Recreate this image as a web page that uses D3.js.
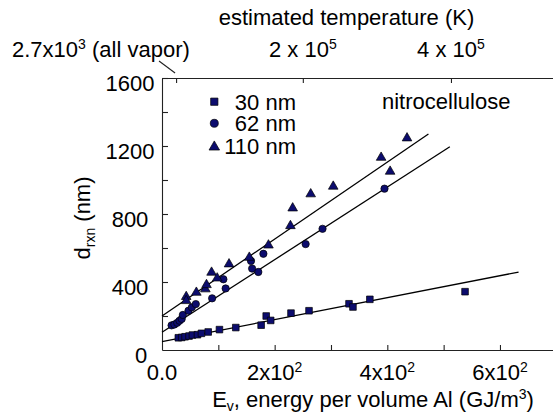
<!DOCTYPE html>
<html><head><meta charset="utf-8">
<script src="https://cdn.jsdelivr.net/npm/d3@7"></script>
<style>
body{margin:0;background:#fff}
svg{display:block}
text{font-family:"Liberation Sans",Arial,sans-serif;fill:#000}
</style>
</head><body>
<svg id="c" width="553" height="414"></svg>
<script>
// ---- data ----
const seriesNames = ["30 nm", "62 nm", "110 nm"];
const energy30 = [29, 35, 41, 48, 54, 63, 70, 82, 102, 131, 176, 185, 193, 229, 261, 332, 339, 369, 538];
const drxn30   = [72, 74, 78, 82, 88, 90, 98, 106, 120, 132, 146, 200, 174, 217, 231, 272, 253, 298, 343];
const energy62 = [17, 22, 27, 31, 35, 37, 47, 53, 60, 89, 109, 113, 158, 160, 171, 180, 255, 285, 395];
const drxn62   = [145, 150, 160, 172, 183, 206, 231, 251, 270, 304, 416, 362, 524, 479, 459, 566, 623, 713, 949];
const energy110 = [43, 43, 61, 77, 79, 88, 98, 119, 155, 189, 228, 232, 264, 304, 389, 405, 435];
const drxn110   = [318, 294, 343, 363, 388, 461, 427, 510, 549, 621, 735, 839, 922, 967, 1137, 1055, 1251];
const fitIntercept = [49, 104, 200];
const fitSlope = [0.647, 2.137, 2.263];
const fitEnd = [633, 511, 473];
const xTickLabels = [["0.0", ""], ["2x10", "2"], ["4x10", "2"], ["6x10", "2"]];
const xLabelValues = [0, 200, 400, 600];
const yLabelValues = [0, 400, 800, 1200, 1600];
const topTickEnergy = [25, 250, 513];
const topTickLabels = [["2.7x10", "3", " (all vapor)"], ["2 x 10", "5", ""], ["4 x 10", "5", ""]];

// ---- chart ----
const svg = d3.select("#c");
const FS = 22;
const x = d3.scaleLinear().domain([0, 700]).range([162, 556.3]);
const y = d3.scaleLinear().domain([0, 1600]).range([350, 78]);
const axisColor = "#222";

// bottom axis
const gx = svg.append("g").attr("transform", `translate(0,${y(0)})`)
  .call(d3.axisBottom(x).tickValues(d3.range(100, 701, 100)).tickSize(-5).tickSizeOuter(0).tickFormat(""));
// left axis
const gy = svg.append("g").attr("transform", `translate(${x(0)},0)`)
  .call(d3.axisLeft(y).tickValues(d3.range(200, 1601, 200)).tickSize(-6).tickSizeOuter(0).tickFormat(""));
// top axis
const gt = svg.append("g").attr("transform", `translate(0,${y(1600)})`)
  .call(d3.axisTop(x).tickValues(topTickEnergy).tickSize(-5).tickSizeOuter(0).tickFormat(""));
[gx, gy, gt].forEach(g => {
  g.selectAll("path").attr("stroke", axisColor).attr("stroke-width", 1.1);
  g.selectAll("line").attr("stroke", axisColor).attr("stroke-width", 1.1);
});

// x tick labels
svg.append("g").selectAll("text").data(xLabelValues).join("text")
  .attr("x", d => x(d)).attr("y", 380).attr("text-anchor", "middle").attr("font-size", FS)
  .each(function(d, i) {
    const t = d3.select(this);
    t.append("tspan").text(xTickLabels[i][0]);
    if (xTickLabels[i][1]) t.append("tspan").attr("font-size", 14).attr("dy", -8).text(xTickLabels[i][1]);
  });

// y tick labels
svg.append("g").selectAll("text").data(yLabelValues).join("text")
  .attr("x", d => d === 0 ? 141 : 130).attr("y", d => y(d) + 12.5)
  .attr("text-anchor", "middle").attr("font-size", FS).text(d => d);

// top tick labels
svg.append("g").selectAll("text").data(topTickEnergy).join("text")
  .attr("x", (d, i) => i === 0 ? 12 : x(d)).attr("y", 57)
  .attr("text-anchor", (d, i) => i === 0 ? "start" : "middle").attr("font-size", FS)
  .each(function(d, i) {
    const t = d3.select(this);
    t.append("tspan").text(topTickLabels[i][0]);
    t.append("tspan").attr("font-size", 14).attr("dy", -8).text(topTickLabels[i][1]);
    if (topTickLabels[i][2]) t.append("tspan").attr("dy", 8).text(topTickLabels[i][2]);
  });
// leader line from label to first top tick
svg.append("line").attr("x1", 159).attr("y1", 61).attr("x2", x(topTickEnergy[0]) - 1).attr("y2", 73)
  .attr("stroke", axisColor).attr("stroke-width", 1.1);

svg.append("text").attr("x", 346.5).attr("y", 25).attr("text-anchor", "middle")
  .attr("font-size", FS).text("estimated temperature (K)");

// axis titles
const xl = svg.append("text").attr("x", 373).attr("y", 407).attr("text-anchor", "middle").attr("font-size", FS);
xl.append("tspan").text("E");
xl.append("tspan").attr("font-size", 14).attr("dy", 4).text("v");
xl.append("tspan").attr("dy", -4).text(", energy per volume Al (GJ/m");
xl.append("tspan").attr("font-size", 14).attr("dy", -8).text("3");
xl.append("tspan").attr("dy", 8).text(")");

const yl = svg.append("text").attr("transform", "translate(90,218) rotate(-90)")
  .attr("text-anchor", "middle").attr("font-size", FS);
yl.append("tspan").text("d");
yl.append("tspan").attr("font-size", 14).attr("dy", 5).text("rxn");
yl.append("tspan").attr("dy", -5).text(" (nm)");

svg.append("text").attr("x", 382).attr("y", 108.5).attr("font-size", FS).text("nitrocellulose");

// fit lines
const fitG = svg.append("g");
fitIntercept.forEach((b, i) => {
  fitG.append("line")
    .attr("x1", x(0)).attr("y1", y(b))
    .attr("x2", x(fitEnd[i])).attr("y2", y(b + fitSlope[i] * fitEnd[i]))
    .attr("stroke", "#000").attr("stroke-width", 1.3);
});

// markers
const symbols = [d3.symbolSquare, d3.symbolCircle, d3.symbolTriangle];
const symSizes = [44, 42, 40];
const mFill = "#0c0c6e";
const series = [[energy30, drxn30], [energy62, drxn62], [energy110, drxn110]];
series.forEach(([ev, dv], i) => {
  const sym = d3.symbol().type(symbols[i]).size(symSizes[i]);
  svg.append("g").selectAll("path").data(ev).join("path")
    .attr("transform", (d, j) => `translate(${x(d)},${y(dv[j]) + (i === 2 ? 0.8 : 0)})`)
    .attr("d", sym).attr("fill", mFill).attr("stroke", "#000").attr("stroke-width", 0.7);
});

// legend
const legY = [101.7, 123.3, 146];
seriesNames.forEach((n, i) => {
  svg.append("path").attr("d", d3.symbol().type(symbols[i]).size(symSizes[i] * 1.2)())
    .attr("transform", `translate(214.3,${legY[i] + (i === 2 ? 1 : 0)})`)
    .attr("fill", mFill).attr("stroke", "#000").attr("stroke-width", 0.7);
  svg.append("text").attr("x", 296).attr("y", legY[i] + 7.8).attr("text-anchor", "end")
    .attr("font-size", FS).text(n);
});
</script>
</body></html>
